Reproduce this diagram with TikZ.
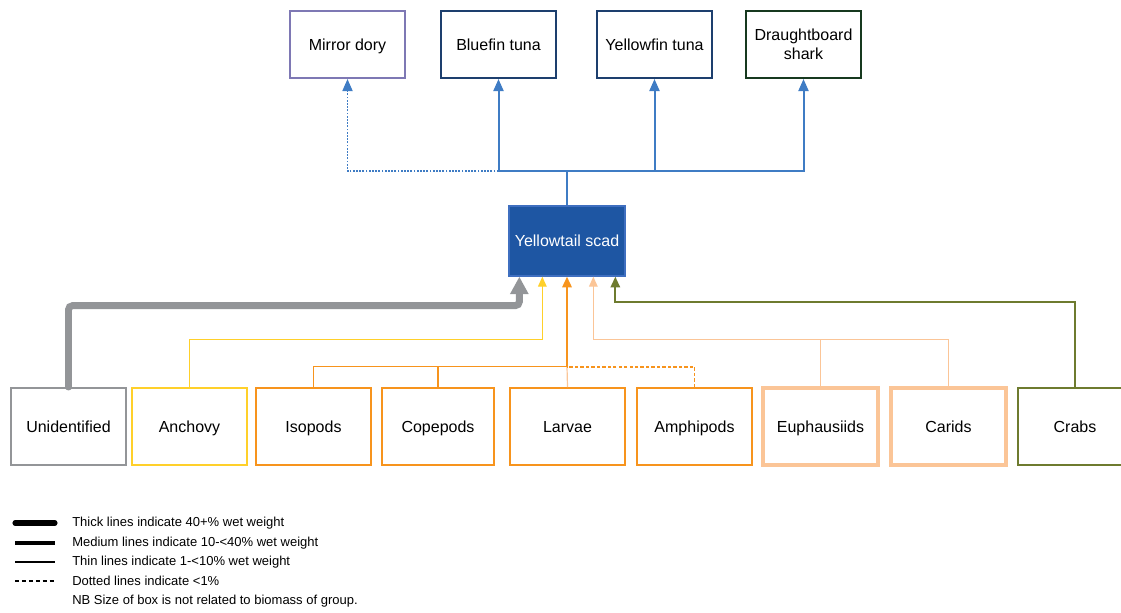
\documentclass[tikz,border=0pt]{standalone}
\usepackage{fontspec}
\setmainfont{Liberation Sans}
\usetikzlibrary{arrows.meta,calc}
\definecolor{blueline}{HTML}{3F7CC4}
\definecolor{scadfill}{HTML}{1E56A3}
\definecolor{scadedge}{HTML}{3F6FC0}
\definecolor{navy}{HTML}{1D3F6E}
\definecolor{purpleedge}{HTML}{7E78B4}
\definecolor{darkgreen}{HTML}{17391F}
\definecolor{greyline}{HTML}{939598}
\definecolor{yel}{HTML}{FFD02A}
\definecolor{ora}{HTML}{F7941D}
\definecolor{peach}{HTML}{FBC597}
\definecolor{olive}{HTML}{6E7B2F}
\tikzset{
  box/.style={rectangle, draw, line width=1.5pt, fill=white, inner sep=0pt,
    minimum width=86.25pt, minimum height=57.75pt, align=center,
    text height=10pt, text depth=1.4pt,
    font=\fontsize{12pt}{14.4pt}\selectfont},
  topbox/.style={box, minimum height=50.25pt},
  thinarr/.style={line width=0.9pt, -{Triangle[length=7.5pt,width=6.5pt]}},
  bluearr/.style={draw=blueline, line width=1.5pt, -{Triangle[length=9pt,width=7.5pt]}},
  legtext/.style={anchor=west, inner sep=0pt, font=\fontsize{9.75pt}{11pt}\selectfont}
}
\begin{document}
\begin{tikzpicture}[x=0.75pt,y=-0.75pt]
\path[use as bounding box] (0,0) rectangle (1121,612);
% top row
\node[topbox, draw=purpleedge] (mirror) at (347.5,44.5) {Mirror dory};
\node[topbox, draw=navy] (bluefin) at (498.5,44.5) {Bluefin tuna};
\node[topbox, draw=navy] (yellowfin) at (654.5,44.5) {Yellowfin tuna};
\node[topbox, draw=darkgreen, text height=, text depth=] (shark) at (803.5,44.5) {Draughtboard\\shark};
% scad
\node[box, draw=scadedge, fill=scadfill, text=white, line width=1pt,
      minimum width=87pt, minimum height=52.5pt] (scad) at (567,241) {Yellowtail scad};
% bottom row
\node[box, draw=greyline] (unid) at (68.5,426.5) {Unidentified};
\node[box, draw=yel] (anchovy) at (189.5,426.5) {Anchovy};
\node[box, draw=ora] (isopods) at (313.5,426.5) {Isopods};
\node[box, draw=ora, minimum width=84pt] (copepods) at (438,426.5) {Copepods};
\node[box, draw=ora] (larvae) at (567.5,426.5) {Larvae};
\node[box, draw=ora] (amphipods) at (694.5,426.5) {Amphipods};
\node[box, draw=peach, line width=3pt] (euph) at (820.5,426.5) {Euphausiids};
\node[box, draw=peach, line width=3pt] (carids) at (948.5,426.5) {Carids};
\node[box, draw=olive] (crabs) at (1075,426.5) {Crabs};
% entry points under scad
\coordinate (inG) at ($(scad.south west)+(11,0)$);
\coordinate (inY) at ($(scad.south west)+(34,0)$);
\coordinate (inO) at (scad.south);
\coordinate (inP) at ($(scad.south west)+(85,0)$);
\coordinate (inV) at ($(scad.south west)+(107,0)$);
\coordinate (jt) at ($(scad.north)+(0,-34)$);
\coordinate (jo) at ($(scad.south)+(0,90)$);
% predators
\draw[blueline, line width=1.5pt] (scad.north) -- (jt);
\draw[draw=blueline, line width=1.3pt, dash pattern=on 1.3pt off 1.1pt, -{Triangle[length=9pt,width=7.5pt]}]
  (bluefin.south |- jt) -| (mirror.south);
\draw[bluearr] (jt) -| (bluefin.south);
\draw[bluearr] (jt) -| (yellowfin.south);
\draw[bluearr] (jt) -| (shark.south);
% prey
\draw[greyline, line width=5.2pt, line cap=round, rounded corners=3pt,
  -{Triangle[length=13pt,width=13pt]}]
  (unid.north) |- ($(inG)+(0,29)$) -- (inG);
\draw[yel, thinarr] (anchovy.north) |- ($(inY)+(0,63)$) -- (inY);
\draw[ora, line width=0.9pt] (isopods.north) |- (jo);
\draw[ora, line width=0.9pt] (copepods.north) |- (jo);
\draw[peach, line width=0.9pt] (larvae.north) -- (jo);
\draw[ora, line width=1.4pt, dash pattern=on 2.5pt off 1.6pt] (amphipods.north) |- (jo);
\draw[ora, line width=1.6pt, -{Triangle[length=8pt,width=7pt]}] (jo) -- (inO);
\draw[peach, line width=0.9pt] (carids.north) |- ($(inP)+(0,63)$);
\draw[peach, thinarr] (euph.north) |- ($(inP)+(0,63)$) -- (inP);
\draw[olive, line width=1.4pt, -{Triangle[length=8pt,width=7pt]}] (crabs.north) |- ($(inV)+(0,25)$) -- (inV);
% legend
\draw[line width=3.8pt, line cap=round] (15,523) -- (55,523);
\draw[line width=2.6pt] (15,543) -- (55,543);
\draw[line width=1pt] (15,562) -- (55,562);
\draw[line width=1pt, dash pattern=on 3pt off 2.2pt] (15,581) -- (55,581);
\node[legtext] (l1) at (72,523) {Thick lines indicate 40+\% wet weight};
\node[legtext] (l2) at (72,543) {Medium lines indicate 10-<40\% wet weight};
\node[legtext] (l3) at (72,562) {Thin lines indicate 1-<10\% wet weight};
\node[legtext] (l4) at (72,581) {Dotted lines indicate <1\%};
\node[legtext] (l5) at (72,601) {NB Size of box is not related to biomass of group.};
\end{tikzpicture}
\end{document}
